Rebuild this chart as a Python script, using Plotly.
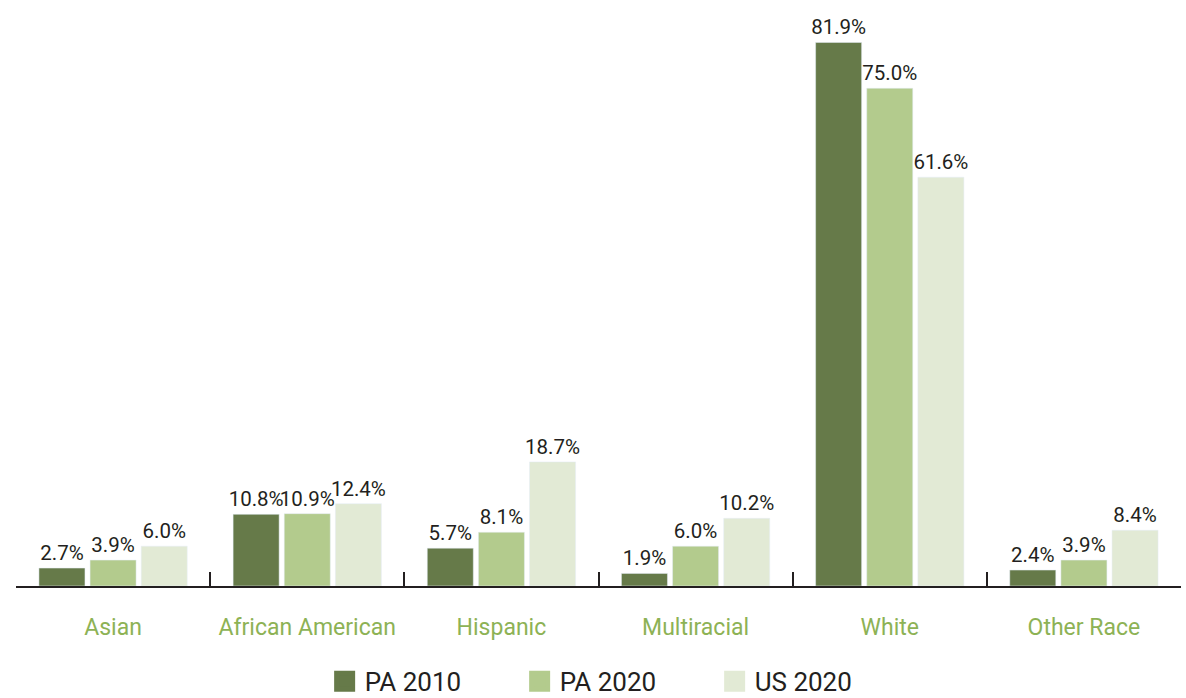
import plotly.graph_objects as go

categories = ["Asian", "African American", "Hispanic", "Multiracial", "White", "Other Race"]
pa_2010 = [2.7, 10.8, 5.7, 1.9, 81.9, 2.4]
pa_2020 = [3.9, 10.9, 8.1, 6.0, 75.0, 3.9]
us_2020 = [6.0, 12.4, 18.7, 10.2, 61.6, 8.4]
series_names = ["PA 2010", "PA 2020", "US 2020"]
colors = ["#667a49", "#b3cb8d", "#e2ead5"]

FONT = "Roboto, sans-serif"

fig = go.Figure()
for name, vals, col in zip(series_names, [pa_2010, pa_2020, us_2020], colors):
    fig.add_trace(go.Bar(
        x=categories, y=vals, name=name, marker_color=col,
        texttemplate="%{y:.1f}%", textposition="outside",
        textfont=dict(family=FONT, size=20.5, color="#231f20"),
        constraintext="none",
        cliponaxis=False, showlegend=False,
    ))
    fig.add_trace(go.Scatter(
        x=[None], y=[None], mode="markers", name=name,
        marker=dict(symbol="square", size=16, color=col, line=dict(width=5, color=col)),
    ))

fig.update_layout(
    width=1186, height=698,
    margin=dict(l=16, r=5, t=0, b=112),
    paper_bgcolor="white", plot_bgcolor="white",
    barmode="group", bargap=0.21, bargroupgap=0.1,
    font=dict(family=FONT, color="#231f20"),
    xaxis=dict(
        showline=True, linecolor="#231f20", linewidth=2,
        ticks="inside", tickson="boundaries", ticklen=14, tickwidth=2, tickcolor="#231f20",
        tickfont=dict(family=FONT, size=23, color="#8db255"),
        ticklabelstandoff=19, showgrid=False, automargin=False, tickangle=0,
    ),
    yaxis=dict(range=[0, 88.3], visible=False, showgrid=False, zeroline=False),
    legend=dict(
        orientation="h", x=0.516, xanchor="center",
        yref="container", y=0.024, yanchor="middle",
        font=dict(family=FONT, size=26, color="#231f20"),
        itemwidth=30, tracegroupgap=0,
        entrywidth=150, entrywidthmode="pixels",
    ),
)

fig.write_html("out.html", post_script="document.body.style.margin='0';",
               config={"displayModeBar": False})
